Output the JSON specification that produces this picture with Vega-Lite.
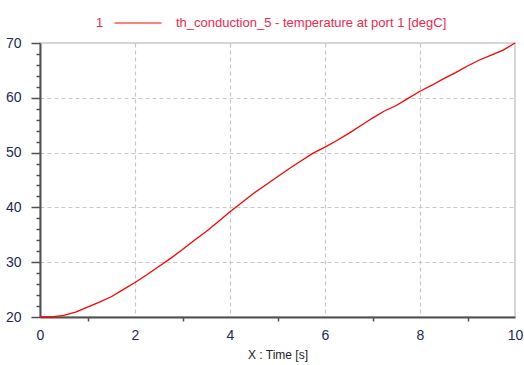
{
  "$schema": "https://vega.github.io/schema/vega-lite/v6.json",
  "width": 475,
  "height": 274,
  "autosize": "none",
  "padding": {"left": 40, "top": 43, "right": 9, "bottom": 48},
  "background": "white",
  "config": {
    "view": {"stroke": "#d6d6d6", "strokeWidth": 2},
    "axis": {
      "labelFont": "Liberation Sans",
      "labelFontSize": 14,
      "labelColor": "#1c2a50",
      "titleFont": "Liberation Sans",
      "titleFontSize": 12,
      "titleFontWeight": "normal",
      "titleColor": "#222222",
      "domainColor": "#505050",
      "domainWidth": 2,
      "tickColor": "#505050",
      "tickWidth": 1.5,
      "gridColor": "#c8c8c8",
      "gridDash": [4, 3],
      "gridWidth": 1.2
    }
  },
  "data": {
    "values": [
      {"t": 0, "v": 20, "s": "th_conduction_5 - temperature at port 1 [degC]"},
      {"t": 0.25, "v": 20.02, "s": "th_conduction_5 - temperature at port 1 [degC]"},
      {"t": 0.5, "v": 20.3, "s": "th_conduction_5 - temperature at port 1 [degC]"},
      {"t": 0.75, "v": 20.9, "s": "th_conduction_5 - temperature at port 1 [degC]"},
      {"t": 1, "v": 21.8, "s": "th_conduction_5 - temperature at port 1 [degC]"},
      {"t": 1.25, "v": 22.7, "s": "th_conduction_5 - temperature at port 1 [degC]"},
      {"t": 1.5, "v": 23.7, "s": "th_conduction_5 - temperature at port 1 [degC]"},
      {"t": 1.75, "v": 25.0, "s": "th_conduction_5 - temperature at port 1 [degC]"},
      {"t": 2, "v": 26.3, "s": "th_conduction_5 - temperature at port 1 [degC]"},
      {"t": 2.25, "v": 27.7, "s": "th_conduction_5 - temperature at port 1 [degC]"},
      {"t": 2.5, "v": 29.2, "s": "th_conduction_5 - temperature at port 1 [degC]"},
      {"t": 2.75, "v": 30.7, "s": "th_conduction_5 - temperature at port 1 [degC]"},
      {"t": 3, "v": 32.3, "s": "th_conduction_5 - temperature at port 1 [degC]"},
      {"t": 3.25, "v": 34.0, "s": "th_conduction_5 - temperature at port 1 [degC]"},
      {"t": 3.5, "v": 35.6, "s": "th_conduction_5 - temperature at port 1 [degC]"},
      {"t": 3.75, "v": 37.4, "s": "th_conduction_5 - temperature at port 1 [degC]"},
      {"t": 4, "v": 39.2, "s": "th_conduction_5 - temperature at port 1 [degC]"},
      {"t": 4.25, "v": 40.9, "s": "th_conduction_5 - temperature at port 1 [degC]"},
      {"t": 4.5, "v": 42.6, "s": "th_conduction_5 - temperature at port 1 [degC]"},
      {"t": 4.75, "v": 44.1, "s": "th_conduction_5 - temperature at port 1 [degC]"},
      {"t": 5, "v": 45.6, "s": "th_conduction_5 - temperature at port 1 [degC]"},
      {"t": 5.25, "v": 47.1, "s": "th_conduction_5 - temperature at port 1 [degC]"},
      {"t": 5.5, "v": 48.5, "s": "th_conduction_5 - temperature at port 1 [degC]"},
      {"t": 5.75, "v": 49.9, "s": "th_conduction_5 - temperature at port 1 [degC]"},
      {"t": 6, "v": 51.0, "s": "th_conduction_5 - temperature at port 1 [degC]"},
      {"t": 6.25, "v": 52.2, "s": "th_conduction_5 - temperature at port 1 [degC]"},
      {"t": 6.5, "v": 53.5, "s": "th_conduction_5 - temperature at port 1 [degC]"},
      {"t": 6.75, "v": 54.9, "s": "th_conduction_5 - temperature at port 1 [degC]"},
      {"t": 7, "v": 56.3, "s": "th_conduction_5 - temperature at port 1 [degC]"},
      {"t": 7.25, "v": 57.6, "s": "th_conduction_5 - temperature at port 1 [degC]"},
      {"t": 7.5, "v": 58.6, "s": "th_conduction_5 - temperature at port 1 [degC]"},
      {"t": 7.75, "v": 59.9, "s": "th_conduction_5 - temperature at port 1 [degC]"},
      {"t": 8, "v": 61.2, "s": "th_conduction_5 - temperature at port 1 [degC]"},
      {"t": 8.25, "v": 62.3, "s": "th_conduction_5 - temperature at port 1 [degC]"},
      {"t": 8.5, "v": 63.5, "s": "th_conduction_5 - temperature at port 1 [degC]"},
      {"t": 8.75, "v": 64.6, "s": "th_conduction_5 - temperature at port 1 [degC]"},
      {"t": 9, "v": 65.8, "s": "th_conduction_5 - temperature at port 1 [degC]"},
      {"t": 9.25, "v": 66.9, "s": "th_conduction_5 - temperature at port 1 [degC]"},
      {"t": 9.5, "v": 67.8, "s": "th_conduction_5 - temperature at port 1 [degC]"},
      {"t": 9.75, "v": 68.7, "s": "th_conduction_5 - temperature at port 1 [degC]"},
      {"t": 10, "v": 70, "s": "th_conduction_5 - temperature at port 1 [degC]"}
    ]
  },
  "mark": {"type": "line", "strokeWidth": 1.3, "interpolate": "linear"},
  "encoding": {
    "x": {
      "field": "t",
      "type": "quantitative",
      "scale": {"domain": [0, 10], "nice": false, "zero": false},
      "axis": {
        "title": "X : Time [s]",
        "titlePadding": 7,
        "values": [0, 1, 2, 3, 4, 5, 6, 7, 8, 9, 10],
        "labelExpr": "datum.value % 2 === 0 ? datum.label : ''",
        "labelPadding": 7,
        "labelFlush": false,
        "tickSize": 4,
        "tickOpacity": {"condition": {"test": "datum.value % 2 === 0", "value": 0}, "value": 1},
        "gridOpacity": {"condition": {"test": "datum.value % 2 === 0 && datum.value > 0 && datum.value < 10", "value": 1}, "value": 0}
      }
    },
    "y": {
      "field": "v",
      "type": "quantitative",
      "scale": {"domain": [20, 70], "nice": false, "zero": false},
      "axis": {
        "title": null,
        "values": [20, 22, 24, 26, 28, 30, 32, 34, 36, 38, 40, 42, 44, 46, 48, 50, 52, 54, 56, 58, 60, 62, 64, 66, 68, 70],
        "labelExpr": "datum.value % 10 === 0 ? datum.label : ''",
        "labelFlush": false,
        "labelPadding": 10,
        "tickSize": {"condition": {"test": "datum.value % 10 === 0", "value": 9}, "value": 4},
        "gridOpacity": {"condition": {"test": "datum.value % 10 === 0 && datum.value > 20 && datum.value < 70", "value": 1}, "value": 0}
      }
    },
    "color": {
      "field": "s",
      "type": "nominal",
      "scale": {"range": ["#ff0000"]},
      "legend": {
        "title": ["", "1"],
        "titleOrient": "left",
        "titleAnchor": "middle",
        "titleBaseline": "middle",
        "titleLineHeight": 16,
        "titleColor": "#f0284f",
        "titleFont": "Liberation Sans",
        "titleFontSize": 13,
        "titleFontWeight": "normal",
        "titlePadding": 10,
        "orient": "none",
        "legendX": 56,
        "legendY": -44,
        "symbolType": "stroke",
        "symbolSize": 2209,
        "symbolStrokeWidth": 1,
        "labelColor": "#f0284f",
        "labelFont": "Liberation Sans",
        "labelFontSize": 13,
        "labelOffset": 14,
        "labelLimit": 400
      }
    }
  }
}
